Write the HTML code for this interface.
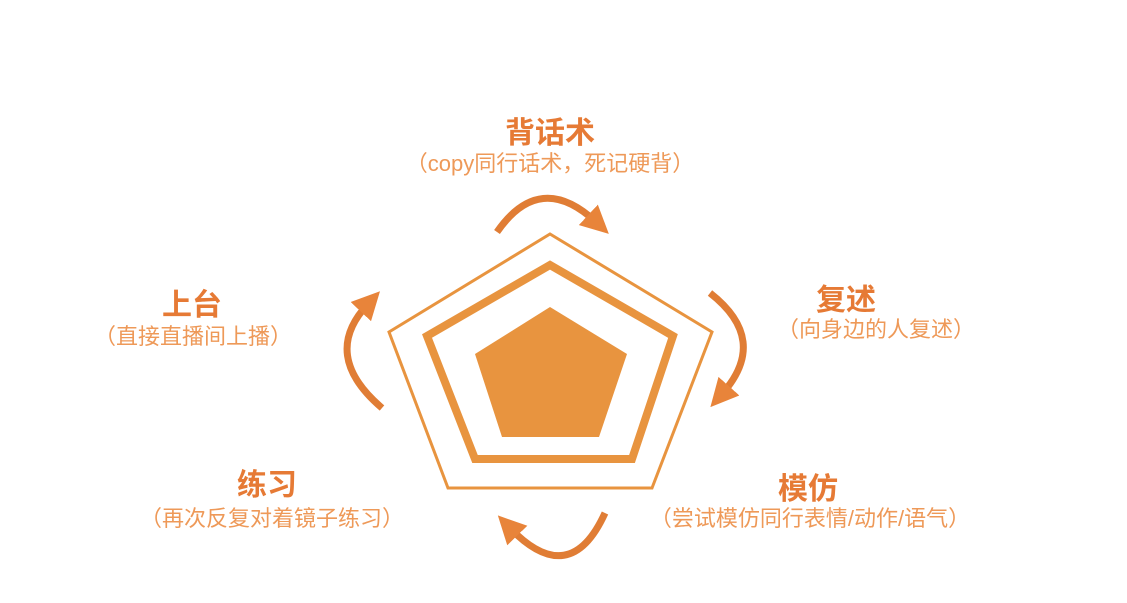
<!DOCTYPE html>
<html><head><meta charset="utf-8"><style>
body{margin:0;width:1127px;height:603px;background:#fff;overflow:hidden;position:relative;font-family:"Liberation Sans","Noto Sans CJK SC",sans-serif}
.t{position:absolute;font-weight:bold;font-size:30px;color:#E67A35;white-space:nowrap;transform:translateX(-50%)}
.s{position:absolute;font-size:22px;color:#EE9958;white-space:nowrap;transform:translateX(-50%)}
svg{position:absolute;left:0;top:0}
</style></head><body>
<svg width="1127" height="603">
<defs>
<marker id="a" markerWidth="4" markerHeight="4" refX="1.5" refY="2" orient="auto" markerUnits="strokeWidth"><path d="M0,0 L4,2 L0,4 z" fill="#E8843A"/></marker>
</defs>
<polygon points="550,234 712,332 652,488 448,488 389,332" fill="none" stroke="#E8943F" stroke-width="3"/>
<polygon points="550,265 673,336 632,459 475,459 427,336" fill="none" stroke="#E8943F" stroke-width="8"/>
<polygon points="550,307 627,354 599,437 502,437 475,354" fill="#E8943F"/>
<g fill="none" stroke="#E07D35" stroke-width="7">
<path d="M497,232 Q540,170 596,222" marker-end="url(#a)"/>
<path d="M710,293 Q770,340 722,394" marker-end="url(#a)"/>
<path d="M605,513 Q570,590 510,528" marker-end="url(#a)"/>
<path d="M382,408 Q320,355 368,304" marker-end="url(#a)"/>
</g>
</svg>
<div class="t" style="left:550px;top:108px">背话术</div>
<div class="s" style="left:550px;top:146px">（copy同行话术，死记硬背）</div>
<div class="t" style="left:846px;top:275px">复述</div>
<div class="s" style="left:876px;top:312px">（向身边的人复述）</div>
<div class="t" style="left:192px;top:280px">上台</div>
<div class="s" style="left:193px;top:319px">（直接直播间上播）</div>
<div class="t" style="left:267px;top:460px">练习</div>
<div class="s" style="left:272px;top:501px">（再次反复对着镜子练习）</div>
<div class="t" style="left:808px;top:464px">模仿</div>
<div class="s" style="left:810px;top:501px">（尝试模仿同行表情/动作/语气）</div>
</body></html>
